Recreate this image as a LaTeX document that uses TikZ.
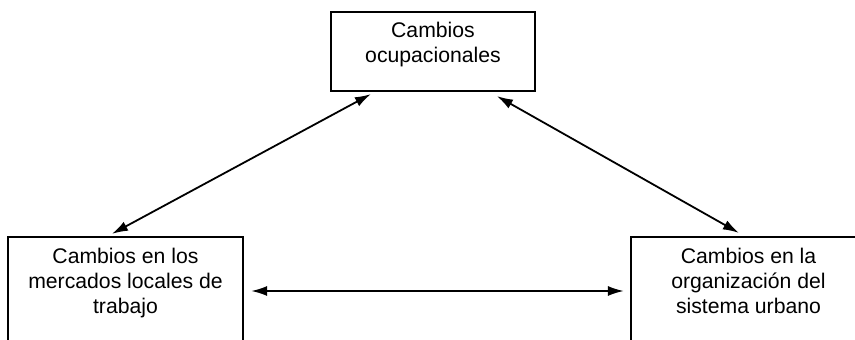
\documentclass[tikz,border=0pt]{standalone}
\usepackage{fontspec}
\setmainfont{Liberation Sans}
\usetikzlibrary{arrows.meta}
\tikzset{
  caja/.style={draw, line width=1.1pt, inner sep=0pt},
  texto/.style={align=center, inner sep=0pt, anchor=north, font=\fontsize{10.6}{12.5}\selectfont},
  flecha/.style={{Latex[length=8pt,width=5pt]}-{Latex[length=8pt,width=5pt]}, line width=0.9pt},
}
\begin{document}
\begin{tikzpicture}[x=0.5pt,y=-0.5pt]
    \useasboundingbox (0,0) rectangle (855,340);
    \node[caja, minimum width=102pt, minimum height=39.5pt] (ocup) at (433,51.5) {};
    \node[caja, minimum width=117.5pt, minimum height=57.5pt] (merc) at (125.5,294.5) {};
    \node[caja, minimum width=117.5pt, minimum height=57.5pt] (urb) at (748.5,294.5) {};

    \node[texto] (tocup) at (433,21.7) {Cambios\\ocupacionales};
    \node[texto] (tmerc) at (125.5,247.7) {Cambios en los\\mercados locales de\\trabajo};
    \node[texto] (turb) at (748.5,247.7) {Cambios en la\\organizaci\'on del\\sistema urbano};

    \draw[flecha] ([xshift=20.5pt,yshift=-1pt]ocup.south west) -- ([xshift=52.5pt,yshift=1pt]merc.north west);
    \draw[flecha] ([xshift=83.5pt,yshift=-2pt]ocup.south west) -- ([xshift=54.5pt,yshift=1.5pt]urb.north west);
    \draw[flecha] ([xshift=3.5pt,yshift=1.75pt]merc.east) -- ([xshift=-3pt,yshift=1.75pt]urb.west);
\end{tikzpicture}
\end{document}
